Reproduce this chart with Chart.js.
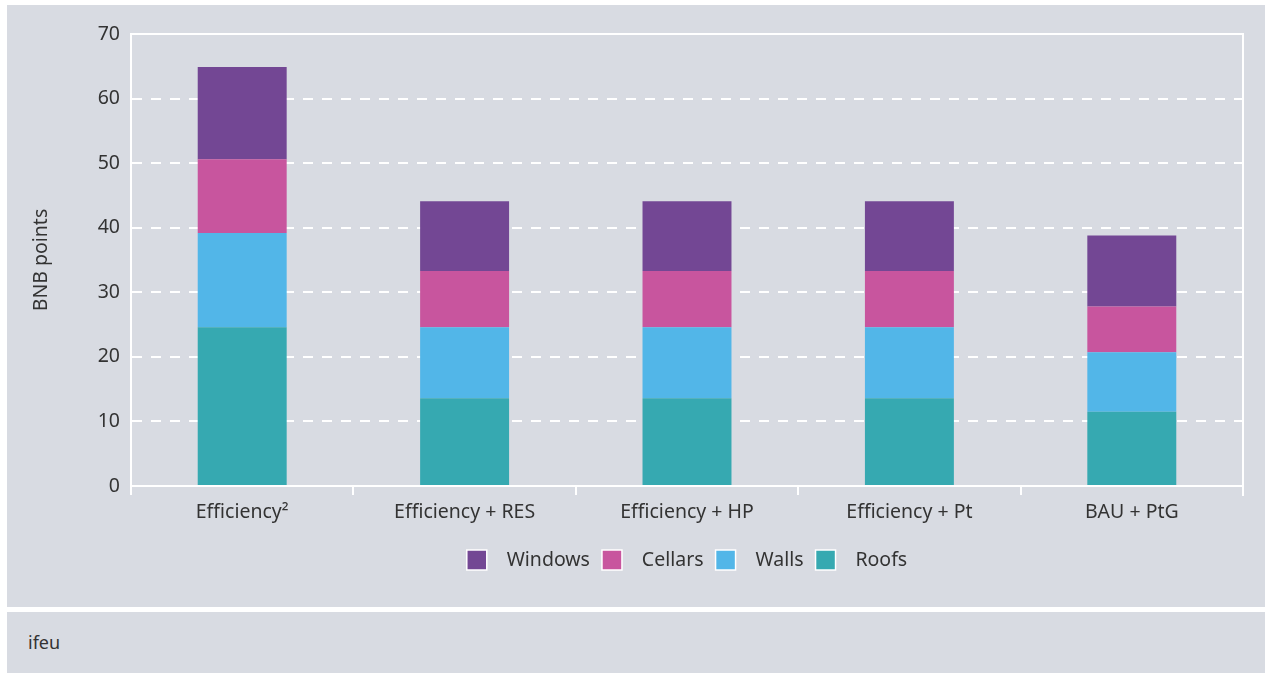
<!DOCTYPE html>
<html>
<head>
<meta charset="utf-8">
<script src="https://cdn.jsdelivr.net/npm/chart.js@4"></script>
<style>
  body { margin: 0; background: #fff; width: 1265px; height: 673px; position: relative; overflow: hidden; }
  .panel { position: absolute; left: 7px; width: 1258px; background: #d8dbe2; }
  #top { top: 5px; height: 602px; }
  #foot { top: 612px; height: 61px; }
  #src { position: absolute; left: 28px; top: 630px; font: 18px "Noto Sans", sans-serif; color: #333; }
  #wrap { position: absolute; left: 0; top: 0; width: 1265px; height: 673px; }
</style>
</head>
<body>
<div class="panel" id="top"></div>
<div class="panel" id="foot"></div>
<div id="src">ifeu</div>
<div id="wrap"><canvas id="chart"></canvas></div>
<script>
var categories = ['Efficiency\u00b2', 'Efficiency + RES', 'Efficiency + HP', 'Efficiency + Pt', 'BAU + PtG'];
var roofs = [24.6, 13.6, 13.6, 13.6, 11.5];
var walls = [14.6, 11.0, 11.0, 11.0, 9.2];
var cellars = [11.4, 8.7, 8.7, 8.7, 7.1];
var windows = [14.3, 10.8, 10.8, 10.8, 11.0];
var yTicks = [0, 10, 20, 30, 40, 50, 60, 70];

var font = "'Noto Sans', sans-serif";
Chart.defaults.font.family = font;
Chart.defaults.font.size = 19.5;
Chart.defaults.color = '#333';

// white frame round the plot area (top and right edges)
var frame = {
  id: 'frame',
  afterDraw: function(chart) {
    var a = chart.chartArea, c = chart.ctx;
    c.save();
    c.strokeStyle = '#fff';
    c.lineWidth = 2;
    c.beginPath();
    c.moveTo(a.left, a.top);
    c.lineTo(a.right, a.top);
    c.lineTo(a.right, a.bottom + 10);
    c.stroke();
    c.restore();
  }
};

var ctx = document.getElementById('chart').getContext('2d');
var myChart = new Chart(ctx, {
  type: 'bar',
  data: {
    labels: categories,
    datasets: [
      { label: 'Roofs', data: roofs, backgroundColor: '#36a9b1' },
      { label: 'Walls', data: walls, backgroundColor: '#52b6e8' },
      { label: 'Cellars', data: cellars, backgroundColor: '#c8559e' },
      { label: 'Windows', data: windows, backgroundColor: '#734794' }
    ]
  },
  options: {
    responsive: true,
    maintainAspectRatio: false,
    animation: false,
    datasets: { bar: { barPercentage: 0.4, categoryPercentage: 1, borderWidth: 0 } },
    layout: { padding: { top: 34, right: 22, bottom: 93, left: 0 } },
    scales: {
      x: {
        stacked: true,
        grid: { offset: true, drawOnChartArea: false, drawTicks: true, tickLength: 9, color: '#fff', lineWidth: 2 },
        border: { color: '#fff', width: 2 },
        ticks: { padding: 6, color: '#333' },
        afterFit: function(s) { s.height = 52; }
      },
      y: {
        stacked: true,
        min: 0,
        max: 70,
        afterBuildTicks: function(s) { s.ticks = yTicks.map(function(v) { return { value: v }; }); },
        grid: { color: '#fff', lineWidth: 2, drawTicks: false },
        border: { color: '#fff', width: 2, dash: [10, 9] },
        ticks: { padding: 11, color: '#333' },
        title: { display: true, text: 'BNB points', color: '#333', padding: { top: 30, bottom: 0 } },
        afterFit: function(s) { s.width = 131; }
      }
    },
    plugins: {
      legend: {
        position: 'bottom',
        fullSize: false,
        reverse: true,
        labels: {
          boxWidth: 20,
          boxHeight: 20,
          padding: 12,
          color: '#333',
          generateLabels: function(chart) {
            var items = Chart.defaults.plugins.legend.labels.generateLabels(chart);
            items.forEach(function(it) {
              it.text = '  ' + it.text;
              it.strokeStyle = '#fff';
              it.lineWidth = 1.5;
            });
            return items;
          }
        }
      },
      tooltip: { enabled: false }
    }
  },
  plugins: [frame]
});
</script>
</body>
</html>
